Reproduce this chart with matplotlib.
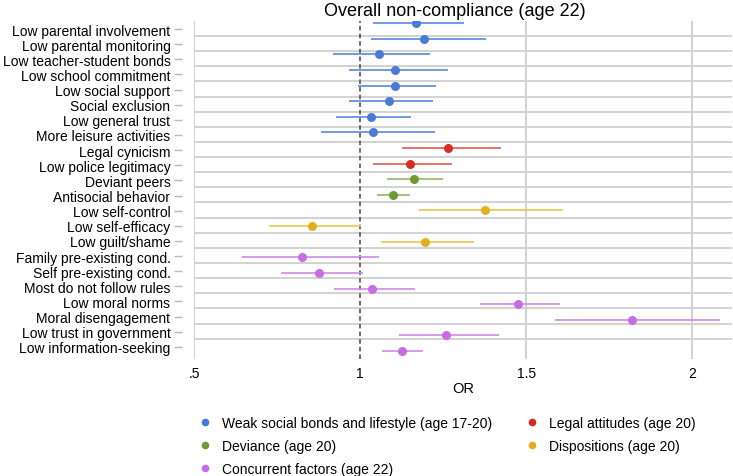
import matplotlib
matplotlib.use("Agg")
import matplotlib.pyplot as plt
from matplotlib.lines import Line2D

plt.rcParams['font.family'] = ['Liberation Sans', 'DejaVu Sans']

# rows, top to bottom
labels = ["Low parental involvement", "Low parental monitoring",
          "Low teacher-student bonds", "Low school commitment",
          "Low social support", "Social exclusion", "Low general trust",
          "More leisure activities", "Legal cynicism",
          "Low police legitimacy", "Deviant peers", "Antisocial behavior",
          "Low self-control", "Low self-efficacy", "Low guilt/shame",
          "Family pre-existing cond.", "Self pre-existing cond.",
          "Most do not follow rules", "Low moral norms",
          "Moral disengagement", "Low trust in government",
          "Low information-seeking"]
odds = [1.168, 1.193, 1.056, 1.106, 1.105, 1.087, 1.034, 1.039, 1.265,
        1.151, 1.161, 1.099, 1.375, 0.854, 1.195, 0.826, 0.877, 1.035,
        1.476, 1.819, 1.258, 1.127]
ci_low = [1.038, 1.033, 0.919, 0.968, 0.993, 0.968, 0.928, 0.882, 1.126,
          1.038, 1.080, 1.052, 1.176, 0.727, 1.063, 0.644, 0.761, 0.922,
          1.360, 1.587, 1.118, 1.066]
ci_high = [1.313, 1.378, 1.212, 1.264, 1.229, 1.221, 1.152, 1.225, 1.424,
           1.276, 1.249, 1.151, 1.610, 1.003, 1.344, 1.058, 1.010, 1.164,
           1.603, 2.085, 1.418, 1.191]
groups = ["weak"] * 8 + ["legal"] * 2 + ["dev"] * 2 + ["disp"] * 3 + ["conc"] * 7

group_names = {
    "weak": "Weak social bonds and lifestyle (age 17-20)",
    "legal": "Legal attitudes (age 20)",
    "dev": "Deviance (age 20)",
    "disp": "Dispositions (age 20)",
    "conc": "Concurrent factors (age 22)",
}
dot_col = {"weak": "#4a7bd4", "legal": "#d42e22", "dev": "#6f9a32",
           "disp": "#e4ae1e", "conc": "#c76de4"}
line_col = {"weak": "#5a88da", "legal": "#e05a50", "dev": "#93b866",
            "disp": "#eac350", "conc": "#d08ae8"}

fig = plt.figure(figsize=(7.33, 4.77), dpi=100)
ax = fig.add_axes([0.2647, 0.2453, 0.7339, 0.7086])

n = len(labels)
# the markers drift slightly against the label rows, as in the original
for i in range(n):
    yp = -0.396 + 1.032 * i
    g = groups[i]
    ax.plot([ci_low[i], ci_high[i]], [yp, yp], color=line_col[g], lw=1.2,
            solid_capstyle='butt', zorder=3)
    ax.plot(odds[i], yp, 'o', color=dot_col[g], ms=6.5, mec='none', zorder=4)

for i in range(n - 1):
    ax.axhline(i + 0.46, color='#cfcfcf', lw=1.3, zorder=1)
for xv in [0.5, 1.5, 2.0]:
    ax.axvline(xv, color='#d2d2d2', lw=1.5, zorder=1)
ax.axvline(1.0, color='#444444', lw=1.1, ls=(0, (3, 2)), zorder=2)

ax.set_xlim(0.5, 2.12)
ax.set_ylim(21.8, -0.53)
ax.set_yticks(range(n))
ax.set_yticklabels(labels, fontsize=10)
ax.set_xticks([0.5, 1, 1.5, 2])
ax.set_xticklabels([".5", "1", "1.5", "2"], fontsize=10)
ax.tick_params(axis='x', length=0, pad=5)
ax.tick_params(axis='y', length=6, color='#bbbbbb', width=1, pad=2)
for s in ['top', 'right', 'bottom']:
    ax.spines[s].set_visible(False)
ax.spines['left'].set_position(('outward', 9))
ax.spines['left'].set_visible(False)
ax.set_xlabel("OR", fontsize=10.5, labelpad=1)

fig.text(0.62, 0.976, "Overall non-compliance (age 22)", fontsize=13,
         ha='center', va='center')

order = ["weak", "dev", "conc", "legal", "disp"]
handles = [Line2D([], [], ls='none', marker='o', ms=5.5, mec='none',
                  color=dot_col[g]) for g in order]
fig.legend(handles, [group_names[g] for g in order], ncol=2,
           loc='upper left', bbox_to_anchor=(0.272, 0.126),
           frameon=False, fontsize=10, handlelength=0.8, handletextpad=0.8,
           columnspacing=2.5, labelspacing=0.64, borderaxespad=0,
           borderpad=0)

fig.savefig("out.png", dpi=100)
